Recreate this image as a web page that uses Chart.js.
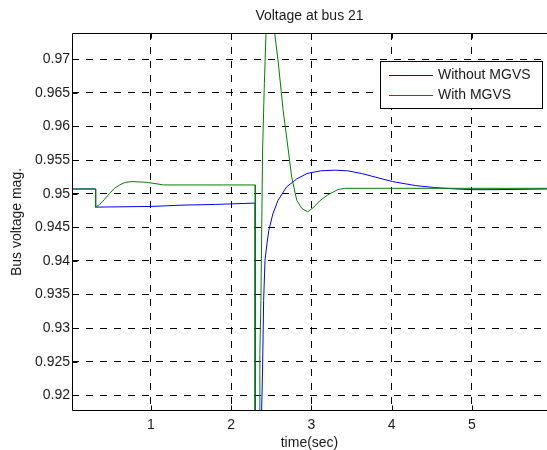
<!DOCTYPE html>
<html>
<head>
<meta charset="utf-8">
<script src="https://cdn.jsdelivr.net/npm/chart.js@4.4.1/dist/chart.umd.min.js"></script>
<style>
  html, body { margin: 0; padding: 0; background: #fff; }
  canvas { display: block; }
</style>
</head>
<body>
<canvas id="chart" width="547" height="450"></canvas>
<script>
// values (time in sec, voltage in pu)
const timeWithout = [0, 0.31, 0.31, 1.0, 1.4, 1.8, 2.3, 2.3, 2.372, 2.379, 2.391, 2.404, 2.421, 2.445, 2.468, 2.519, 2.583, 2.689, 2.817, 2.945, 3.115, 3.29, 3.45, 3.626, 3.753, 4.01, 4.3, 4.55, 4.8, 5.0, 5.3, 5.94];
const voltWithout = [0.9507, 0.9507, 0.948, 0.9481, 0.9483, 0.9484, 0.9486, 0.90, 0.90, 0.9177, 0.9242, 0.9341, 0.9401, 0.9425, 0.9445, 0.9470, 0.9490, 0.9510, 0.9522, 0.9530, 0.9534, 0.9535, 0.9534, 0.9530, 0.9526, 0.9518, 0.9512, 0.9509, 0.9507, 0.9506, 0.9506, 0.9507];
const timeWith = [0, 0.31, 0.31, 0.36, 0.417, 0.48, 0.547, 0.61, 0.678, 0.765, 0.85, 0.94, 1.05, 1.157, 1.5, 1.9, 2.3, 2.3, 2.35, 2.357, 2.37, 2.391, 2.413, 2.434, 2.46, 2.485, 2.51, 2.54, 2.583, 2.647, 2.711, 2.753, 2.817, 2.881, 2.953, 3.03, 3.1, 3.2, 3.328, 3.413, 4.0, 5.0, 5.94];
const voltWith = [0.9507, 0.9507, 0.948, 0.9484, 0.9491, 0.9500, 0.9508, 0.9513, 0.95168, 0.9518, 0.95175, 0.9517, 0.9515, 0.9513, 0.9513, 0.9513, 0.9513, 0.90, 0.90, 0.9261, 0.9341, 0.9565, 0.9664, 0.9740, 0.9762, 0.977, 0.9765, 0.9740, 0.9699, 0.9624, 0.9565, 0.9525, 0.9490, 0.9478, 0.9473, 0.9480, 0.9489, 0.9498, 0.9506, 0.9508, 0.9508, 0.9508, 0.9508];
const seriesLabels = ['Without MGVS', 'With MGVS'];
const xTicks = [1, 2, 3, 4, 5];
const xTickLabels = ['1', '2', '3', '4', '5'];
const yTicks = [0.92, 0.925, 0.93, 0.935, 0.94, 0.945, 0.95, 0.955, 0.96, 0.965, 0.97];
const yTickLabels = ['0.92', '0.925', '0.93', '0.935', '0.94', '0.945', '0.95', '0.955', '0.96', '0.965', '0.97'];

const FONT = "'Liberation Sans', Arial, Helvetica, sans-serif";
const TEXT = '#1a1a1a';

const pts = (ts, vs) => ts.map((t, i) => ({ x: t, y: vs[i] }));

// axes box with inward ticks, MATLAB style
const frame = {
  id: 'frame',
  afterDatasetsDraw(chart) {
    const { ctx, chartArea: a, scales: { x, y } } = chart;
    const L = a.left + 0.5, T = a.top + 0.5, B = a.bottom - 0.5;
    ctx.save();
    ctx.strokeStyle = '#000';
    ctx.lineWidth = 1;
    ctx.beginPath();
    ctx.moveTo(a.right, T); ctx.lineTo(L, T); ctx.lineTo(L, B); ctx.lineTo(a.right, B);
    xTicks.forEach(v => {
      const px = Math.round(x.getPixelForValue(v)) + 0.5;
      ctx.moveTo(px, B); ctx.lineTo(px, B - 5);
      ctx.moveTo(px, T); ctx.lineTo(px, T + 5);
    });
    yTicks.forEach(v => {
      const py = Math.round(y.getPixelForValue(v)) + 0.5;
      ctx.moveTo(L, py); ctx.lineTo(L + 5, py);
    });
    ctx.stroke();
    ctx.restore();
  }
};

// boxed legend inside the axes
const boxLegend = {
  id: 'boxLegend',
  afterDraw(chart) {
    const { ctx } = chart;
    const x0 = 380.5, y0 = 61.5, w = 162, h = 47;
    ctx.save();
    ctx.fillStyle = '#fff';
    ctx.fillRect(x0, y0, w, h);
    ctx.strokeStyle = '#000';
    ctx.lineWidth = 1;
    ctx.strokeRect(x0, y0, w, h);
    ctx.font = '14px ' + FONT;
    ctx.textBaseline = 'middle';
    const order = [1, 0];
    order.forEach((di, k) => {
      const ds = chart.data.datasets[di];
      const yy = 75.5 + k * 20;
      ctx.strokeStyle = ds.borderColor;
      ctx.beginPath(); ctx.moveTo(389, yy); ctx.lineTo(433, yy); ctx.stroke();
      ctx.fillStyle = TEXT;
      ctx.fillText(ds.label, 438, yy);
    });
    ctx.restore();
  }
};

new Chart(document.getElementById('chart'), {
  type: 'scatter',
  data: {
    datasets: [
      { label: seriesLabels[1], data: pts(timeWith, voltWith), borderColor: '#008000', borderWidth: 1 },
      { label: seriesLabels[0], data: pts(timeWithout, voltWithout), borderColor: '#0000ff', borderWidth: 1 }
    ]
  },
  options: {
    responsive: false,
    animation: false,
    devicePixelRatio: 1,
    showLine: true,
    elements: { point: { radius: 0 }, line: { tension: 0 } },
    layout: { padding: 0 },
    plugins: {
      legend: { display: false },
      tooltip: { enabled: false },
      title: {
        display: true, text: 'Voltage at bus 21', fullSize: false, color: TEXT,
        font: { family: FONT, size: 14, weight: 'normal' },
        padding: { top: 7.5, bottom: 8.7 }
      }
    },
    scales: {
      x: {
        type: 'linear', min: 0.016, max: 5.935,
        afterBuildTicks: s => { s.ticks = xTicks.map(v => ({ value: v })); },
        afterFit: s => { s.height = 39; },
        ticks: { callback: (v, i) => xTickLabels[i], color: TEXT, padding: 6, font: { family: FONT, size: 14 } },
        grid: { color: '#000', lineWidth: 1, drawTicks: false },
        border: { display: false, dash: [7, 7] },
        title: { display: true, text: 'time(sec)', color: TEXT, padding: 0, font: { family: FONT, size: 14, lineHeight: 1 } }
      },
      y: {
        type: 'linear', min: 0.91766, max: 0.97391,
        afterBuildTicks: s => { s.ticks = yTicks.map(v => ({ value: v })); },
        afterFit: s => { s.width = 72; },
        ticks: { callback: (v, i) => yTickLabels[i], color: TEXT, padding: 2, font: { family: FONT, size: 14 } },
        grid: { color: '#000', lineWidth: 1, drawTicks: false },
        border: { display: false, dash: [7, 7] },
        title: { display: true, text: 'Bus voltage mag.', color: TEXT, padding: { top: 9 }, font: { family: FONT, size: 14 } }
      }
    }
  },
  plugins: [frame, boxLegend]
});
</script>
</body>
</html>
